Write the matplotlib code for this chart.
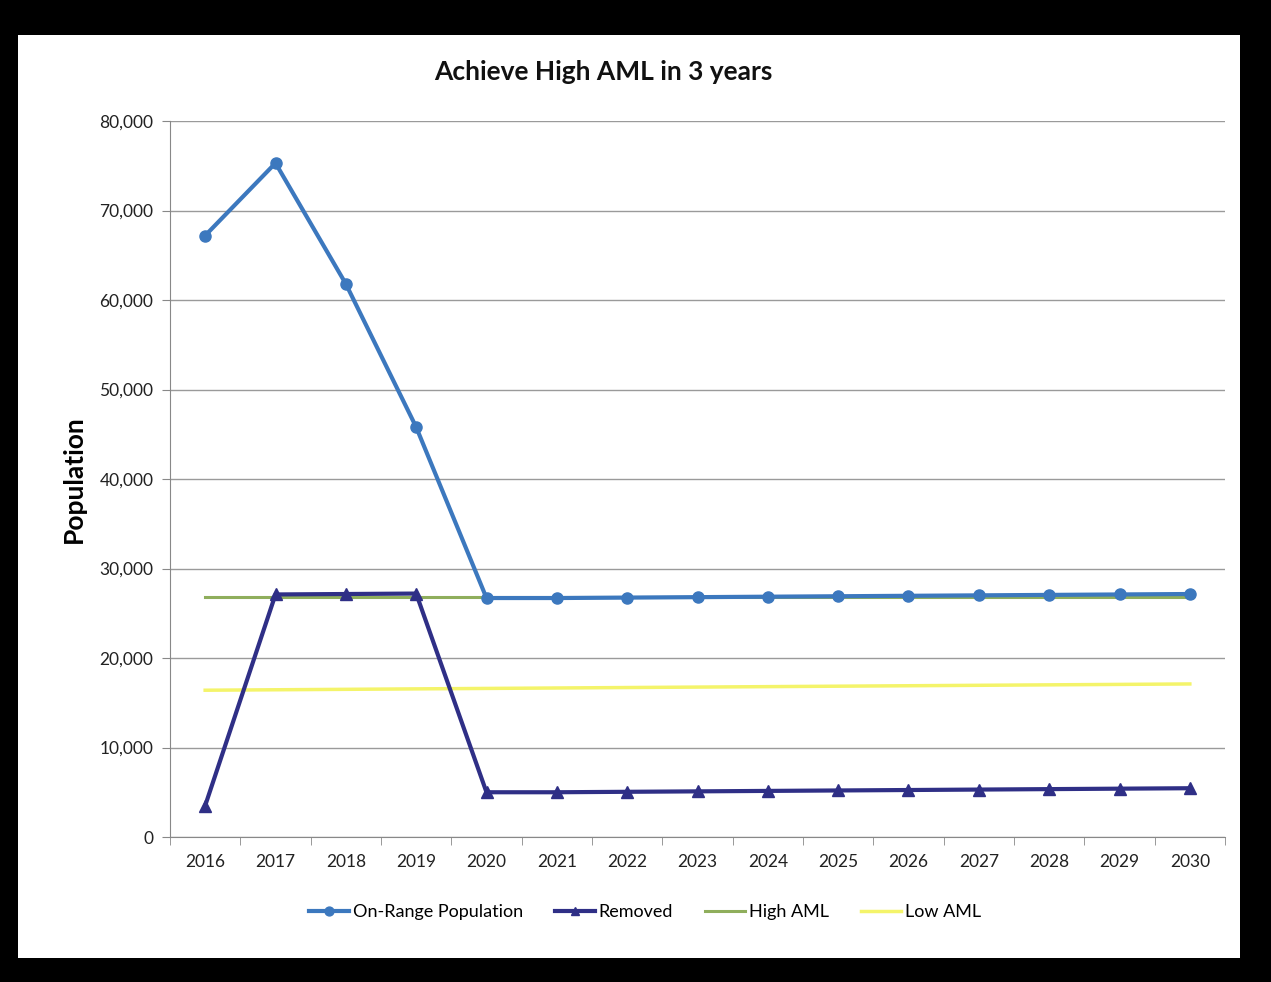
import matplotlib.pyplot as plt
from matplotlib.patches import Rectangle
from matplotlib.ticker import FuncFormatter, MultipleLocator

years = ["2016", "2017", "2018", "2019", "2020", "2021", "2022", "2023",
         "2024", "2025", "2026", "2027", "2028", "2029", "2030"]
on_range = [67200, 75300, 61800, 45800, 26700, 26700, 26750, 26800,
            26850, 26900, 26950, 27000, 27050, 27100, 27150]
removed = [3500, 27100, 27150, 27200, 5000, 5000, 5050, 5100,
           5150, 5200, 5250, 5300, 5350, 5400, 5450]
high_aml = [26800] * 15
low_aml = [16400, 16450, 16500, 16550, 16600, 16650, 16700, 16750,
           16800, 16850, 16900, 16950, 17000, 17050, 17100]

plt.rcParams['font.family'] = ['Lato', 'DejaVu Sans']

fig = plt.figure(figsize=(12.71, 9.82), dpi=100, facecolor='black')
# white chart card inside the black frame
fig.patches.append(Rectangle((18 / 1271, 1 - 958 / 982), 1222 / 1271, 923 / 982,
                             transform=fig.transFigure, facecolor='white',
                             edgecolor='none', zorder=-10))

ax = fig.add_axes([170 / 1271, 1 - 837 / 982, 1055 / 1271, 716 / 982])
ax.set_zorder(1)
ax.patch.set_alpha(0)
x = range(len(years))

ax.plot(x, high_aml, color='#8FAE5C', lw=2.2, label='High AML', zorder=3)
ax.plot(x, low_aml, color='#F4F46A', lw=2.5, label='Low AML', zorder=3)
ax.plot(x, removed, color='#2F2F86', lw=3, marker='^', ms=8, label='Removed', zorder=4)
ax.plot(x, on_range, color='#3C78BE', lw=3, marker='o', ms=8,
        label='On-Range Population', zorder=5)

ax.set_xlim(-0.5, len(years) - 0.5)
ax.set_ylim(0, 80000)
ax.yaxis.set_major_locator(MultipleLocator(10000))
ax.yaxis.set_major_formatter(FuncFormatter(lambda v, p: f"{int(v):,}"))
ax.set_xticks(list(x))
ax.set_xticklabels(years)
ax.set_xticks([i - 0.5 for i in range(len(years) + 1)], minor=True)
ax.tick_params(axis='x', which='major', length=0, pad=12, labelsize=12.5, colors='#222222')
ax.tick_params(axis='x', which='minor', length=6, color='#888888', direction='out')
ax.tick_params(axis='y', length=6, color='#888888', labelsize=12.5, colors='#222222', pad=6)
ax.grid(axis='y', color='#9a9a9a', lw=1)
ax.set_axisbelow(True)
for side in ['top', 'right']:
    ax.spines[side].set_visible(False)
for side in ['left', 'bottom']:
    ax.spines[side].set_color('#888888')

ax.set_ylabel('Population', fontsize=19, fontweight='bold', labelpad=10)
fig.text(603 / 1271, 1 - 72 / 982, 'Achieve High AML in 3 years', ha='center',
         va='center', fontsize=19, fontweight='bold', color='#111111')

handles, labels = ax.get_legend_handles_labels()
order = [3, 2, 0, 1]
ax.legend([handles[i] for i in order], [labels[i] for i in order],
          loc='center', bbox_to_anchor=(645 / 1271, 1 - 912 / 982),
          bbox_transform=fig.transFigure, ncol=4, frameon=False,
          fontsize=13, handlelength=2.2, handletextpad=0.2, columnspacing=1.8,
          markerscale=0.8)

fig.savefig('out.png', dpi=100, facecolor='black')
